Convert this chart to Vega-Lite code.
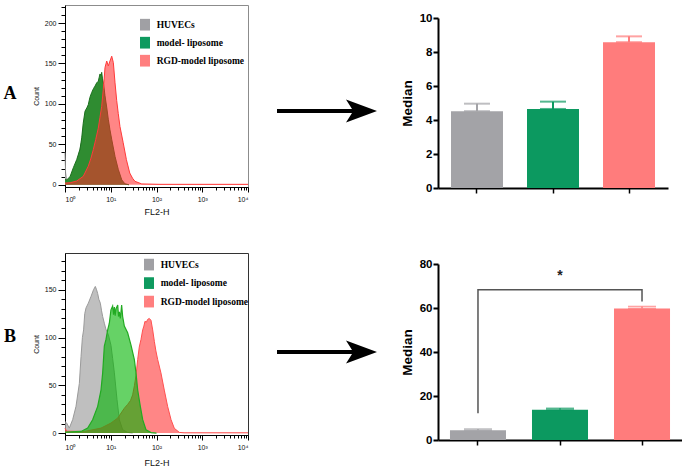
{
  "$schema": "https://vega.github.io/schema/vega-lite/v6.json",
  "padding": {"left": 0, "top": 2, "right": 0, "bottom": 0},
  "background": "white",
  "config": {
    "view": {"stroke": null},
    "font": "Liberation Sans",
    "axis": {"grid": false, "domainColor": "#000", "tickColor": "#000", "labelColor": "#111", "titleColor": "#111"}
  },
  "datasets": {
    "histA": [
      {"s":"gray","x":1,"c":40},{"s":"gray","x":1.03,"c":15},{"s":"gray","x":1.08,"c":5},{"s":"gray","x":1.3,"c":8},{"s":"gray","x":1.8,"c":27},{"s":"gray","x":2.3,"c":52},{"s":"gray","x":2.74,"c":85},{"s":"gray","x":3.2,"c":95},{"s":"gray","x":3.8,"c":108},{"s":"gray","x":4.5,"c":117},{"s":"gray","x":5.3,"c":124},{"s":"gray","x":5.8,"c":132},{"s":"gray","x":6.3,"c":133},{"s":"gray","x":7.5,"c":105},{"s":"gray","x":8.8,"c":76},{"s":"gray","x":10.5,"c":52},{"s":"gray","x":12.4,"c":31},{"s":"gray","x":14.6,"c":16},{"s":"gray","x":17.4,"c":5},{"s":"gray","x":20.5,"c":1},{"s":"gray","x":25,"c":0},
      {"s":"green","x":1,"c":7},{"s":"green","x":1.09,"c":6},{"s":"green","x":1.29,"c":10},{"s":"green","x":1.52,"c":21},{"s":"green","x":1.8,"c":31},{"s":"green","x":2.13,"c":44},{"s":"green","x":2.32,"c":58},{"s":"green","x":2.5,"c":76},{"s":"green","x":2.74,"c":91},{"s":"green","x":3.0,"c":95},{"s":"green","x":3.23,"c":99},{"s":"green","x":3.5,"c":108},{"s":"green","x":3.83,"c":114},{"s":"green","x":4.2,"c":119},{"s":"green","x":4.53,"c":122},{"s":"green","x":4.93,"c":126},{"s":"green","x":5.34,"c":128},{"s":"green","x":5.6,"c":133},{"s":"green","x":5.82,"c":137},{"s":"green","x":6.1,"c":135},{"s":"green","x":6.34,"c":139},{"s":"green","x":6.6,"c":131},{"s":"green","x":7.0,"c":124},{"s":"green","x":7.49,"c":110},{"s":"green","x":8.2,"c":95},{"s":"green","x":8.84,"c":81},{"s":"green","x":9.6,"c":68},{"s":"green","x":10.5,"c":56},{"s":"green","x":12.4,"c":35},{"s":"green","x":14.6,"c":19},{"s":"green","x":17.4,"c":6},{"s":"green","x":20.5,"c":1},{"s":"green","x":25,"c":0},
      {"s":"red","x":1,"c":2},{"s":"red","x":1.3,"c":2.5},{"s":"red","x":1.8,"c":4.6},{"s":"red","x":2.51,"c":10.4},{"s":"red","x":3.23,"c":23},{"s":"red","x":3.7,"c":33},{"s":"red","x":4.16,"c":43.5},{"s":"red","x":4.7,"c":56},{"s":"red","x":5.34,"c":70},{"s":"red","x":5.8,"c":83},{"s":"red","x":6.34,"c":97},{"s":"red","x":6.87,"c":118},{"s":"red","x":7.2,"c":132},{"s":"red","x":7.49,"c":145},{"s":"red","x":8.17,"c":153},{"s":"red","x":8.84,"c":147},{"s":"red","x":9.62,"c":153},{"s":"red","x":10.5,"c":159},{"s":"red","x":11.4,"c":151},{"s":"red","x":12.4,"c":126},{"s":"red","x":13.5,"c":104},{"s":"red","x":14.6,"c":88},{"s":"red","x":15.9,"c":72},{"s":"red","x":18.7,"c":52},{"s":"red","x":22,"c":31},{"s":"red","x":26,"c":14.5},{"s":"red","x":30,"c":8},{"s":"red","x":33.8,"c":4.2},{"s":"red","x":47.6,"c":1},{"s":"red","x":119,"c":0.5},{"s":"red","x":10000,"c":0.5}
    ],
    "histB": [
      {"s":"gray","x":1,"c":12},{"s":"gray","x":1.09,"c":10.5},{"s":"gray","x":1.24,"c":5.2},{"s":"gray","x":1.47,"c":14},{"s":"gray","x":1.74,"c":28},{"s":"gray","x":2.06,"c":52},{"s":"gray","x":2.24,"c":80},{"s":"gray","x":2.4,"c":100},{"s":"gray","x":2.55,"c":108},{"s":"gray","x":2.7,"c":125},{"s":"gray","x":2.88,"c":131},{"s":"gray","x":3.24,"c":136},{"s":"gray","x":3.7,"c":143},{"s":"gray","x":4.2,"c":150},{"s":"gray","x":4.6,"c":153.5},{"s":"gray","x":4.9,"c":150},{"s":"gray","x":5.18,"c":146},{"s":"gray","x":5.5,"c":140},{"s":"gray","x":5.92,"c":136},{"s":"gray","x":6.3,"c":128},{"s":"gray","x":6.66,"c":122},{"s":"gray","x":7.24,"c":115},{"s":"gray","x":7.8,"c":109},{"s":"gray","x":8.28,"c":106},{"s":"gray","x":8.86,"c":103},{"s":"gray","x":10.1,"c":92},{"s":"gray","x":11,"c":78},{"s":"gray","x":12,"c":63},{"s":"gray","x":13.7,"c":35},{"s":"gray","x":15.4,"c":14},{"s":"gray","x":18.2,"c":3.5},{"s":"gray","x":23.4,"c":0.7},{"s":"gray","x":30,"c":0},
      {"s":"green","x":1,"c":1},{"s":"green","x":2.24,"c":1.7},{"s":"green","x":3.13,"c":5.2},{"s":"green","x":4.02,"c":14},{"s":"green","x":5.18,"c":28},{"s":"green","x":6.12,"c":45},{"s":"green","x":6.66,"c":63},{"s":"green","x":7.24,"c":91},{"s":"green","x":7.87,"c":98},{"s":"green","x":8.57,"c":108},{"s":"green","x":9.31,"c":115},{"s":"green","x":10.1,"c":129},{"s":"green","x":11,"c":133},{"s":"green","x":11.5,"c":124},{"s":"green","x":12,"c":132},{"s":"green","x":12.5,"c":123},{"s":"green","x":13,"c":130},{"s":"green","x":14.2,"c":134},{"s":"green","x":14.8,"c":122},{"s":"green","x":15.4,"c":127},{"s":"green","x":16.2,"c":120},{"s":"green","x":17.3,"c":134},{"s":"green","x":18.2,"c":122},{"s":"green","x":19.8,"c":112},{"s":"green","x":23.4,"c":105},{"s":"green","x":27.7,"c":92},{"s":"green","x":32.8,"c":77},{"s":"green","x":35.6,"c":63},{"s":"green","x":38.8,"c":45},{"s":"green","x":44.3,"c":28},{"s":"green","x":49.9,"c":14},{"s":"green","x":58.9,"c":3.5},{"s":"green","x":75.8,"c":0.5},{"s":"green","x":100,"c":0},
      {"s":"red","x":1,"c":5},{"s":"red","x":1.1,"c":2},{"s":"red","x":2.65,"c":1.7},{"s":"red","x":6.12,"c":5.2},{"s":"red","x":10.1,"c":10.5},{"s":"red","x":14.2,"c":15.7},{"s":"red","x":19.8,"c":26},{"s":"red","x":23.4,"c":30},{"s":"red","x":27,"c":34},{"s":"red","x":30.1,"c":40},{"s":"red","x":33,"c":50},{"s":"red","x":35.6,"c":60},{"s":"red","x":38.8,"c":77},{"s":"red","x":42,"c":90},{"s":"red","x":45.8,"c":98},{"s":"red","x":49.9,"c":108},{"s":"red","x":53,"c":112},{"s":"red","x":56,"c":117},{"s":"red","x":60,"c":116},{"s":"red","x":64.1,"c":119},{"s":"red","x":69.7,"c":120},{"s":"red","x":75.8,"c":118},{"s":"red","x":82.5,"c":108},{"s":"red","x":89.7,"c":96},{"s":"red","x":97,"c":86},{"s":"red","x":106,"c":77},{"s":"red","x":125,"c":63},{"s":"red","x":148,"c":45},{"s":"red","x":175,"c":28},{"s":"red","x":208,"c":14},{"s":"red","x":245,"c":5},{"s":"red","x":316,"c":0.7},{"s":"red","x":400,"c":0.3},{"s":"red","x":10000,"c":0.3}
    ],
    "barA": [
      {"g":"HUVECs","v":4.52,"e":4.96},
      {"g":"model- liposome","v":4.65,"e":5.08},
      {"g":"RGD-model liposome","v":8.58,"e":8.92}
    ],
    "barB": [
      {"g":"HUVECs","v":4.4,"e":5.0},
      {"g":"model- liposome","v":13.7,"e":14.4},
      {"g":"RGD-model liposome","v":59.8,"e":60.7}
    ],
    "bracketB": [
      {"g":"HUVECs","v":12.2,"o":1},
      {"g":"HUVECs","v":68.3,"o":2},
      {"g":"RGD-model liposome","v":68.3,"o":3},
      {"g":"RGD-model liposome","v":63,"o":4}
    ],
    "starB": [
      {"g":"model- liposome","v":74.5,"t":"*"}
    ]
  },
  "bounds": "flush",
  "align": "each",
  "columns": 4,
  "spacing": {"row": 36, "column": 45},
  "resolve": {"scale": {"color": "independent"}, "legend": {"color": "independent"}},
  "concat": [
    {"width": 20, "height": 178, "data": {"values": [{"t": "A"}]},
     "mark": {"type": "text", "font": "Liberation Serif", "fontWeight": "bold", "fontSize": 18, "baseline": "middle", "align": "center", "color": "#000"},
     "encoding": {"text": {"field": "t"}}},
    {
      "width": 183, "height": 182,
      "view": {"stroke": "#8c8c8c"},
      "data": {"name": "histA"},
      "encoding": {
        "x": {"field": "x", "type": "quantitative", "scale": {"type": "log", "domain": [1, 10000], "nice": false},
          "axis": {"title": "FL2-H", "values": [1,2,3,4,5,6,7,8,9,10,20,30,40,50,60,70,80,90,100,200,300,400,500,600,700,800,900,1000,2000,3000,4000,5000,6000,7000,8000,9000,10000],
            "labelExpr": "datum.value == 1 ? '10⁰' : datum.value == 10 ? '10¹' : datum.value == 100 ? '10²' : datum.value == 1000 ? '10³' : datum.value == 10000 ? '10⁴' : ''",
            "labelFlush": true, "labelOverlap": false, "labelFontSize": 7, "labelPadding": 3,
            "tickSize": {"condition": {"test": "indexof([1,10,100,1000,10000], datum.value) >= 0", "value": 5}, "value": 3},
            "titleFontSize": 9, "titleFontWeight": "normal", "titlePadding": 5}},
        "y": {"field": "c", "type": "quantitative", "stack": null, "scale": {"domain": [-2.8, 222.3], "nice": false, "zero": false},
          "axis": {"title": "Count", "values": [0,10,20,30,40,50,60,70,80,90,100,110,120,130,140,150,160,170,180,190,200,210,220],
            "labelExpr": "datum.value % 50 == 0 ? datum.label : ''", "labelOverlap": false, "labelFlush": false, "labelFontSize": 7, "labelPadding": 2,
            "tickSize": {"condition": {"test": "datum.value % 50 == 0", "value": 7}, "value": 4},
            "titleFontSize": 7, "titleFontWeight": "normal", "titlePadding": 5}}
      },
      "layer": [
        {"transform": [{"filter": "datum.s == 'gray'"}], "mark": {"type": "area", "color": "#b0b0b0", "fillOpacity": 1, "line": {"color": "#8c8c8c", "strokeWidth": 1}}},
        {"transform": [{"filter": "datum.s == 'green'"}], "mark": {"type": "area", "color": "#2f8c31", "fillOpacity": 1, "line": {"color": "#1b701d", "strokeWidth": 1}}},
        {"transform": [{"filter": "datum.s == 'red'"}], "mark": {"type": "area", "color": "#ff2a2a", "fillOpacity": 0.57, "line": {"color": "#ff3a3a", "strokeWidth": 1}}},
        {"transform": [{"filter": "false"}], "mark": {"type": "square", "filled": true},
         "encoding": {"color": {"field": "s", "type": "nominal",
           "scale": {"domain": ["HUVECs", "model- liposome", "RGD-model liposome"], "range": ["#a0a0a4", "#0e9a5f", "#ff7f7f"]},
           "legend": {"orient": "none", "legendX": 74, "legendY": 13.7, "title": null, "symbolType": "M-0.85,-1L0.85,-1L0.85,1L-0.85,1Z", "symbolSize": 137, "symbolStrokeWidth": 0, "symbolOpacity": 1,
             "labelFont": "Liberation Serif", "labelFontWeight": "bold", "labelFontSize": 9.5, "labelColor": "#000", "rowPadding": 6, "labelOffset": 5.7, "padding": 0, "offset": 0}}}}
      ]
    },
    {"width": 100, "height": 212, "data": {"values": [{"k": "A"}]},
     "mark": {"type": "point", "shape": "M-1,-0.04L0.5,-0.04L0.38,-0.23L1,0L0.38,0.23L0.5,0.04L-1,0.04Z", "size": 10000, "filled": true, "color": "#000", "opacity": 1, "strokeWidth": 0, "xOffset": -16},
     "encoding": {}},
    {
      "width": 230, "height": 183,
      "data": {"name": "barA"},
      "encoding": {
        "x": {"field": "g", "type": "nominal", "sort": null,
          "scale": {"domain": ["HUVECs", "model- liposome", "RGD-model liposome"], "paddingInner": 0.316, "paddingOuter": 0.171},
          "axis": {"title": null, "labels": false, "tickSize": 5, "tickWidth": 1.5, "domainWidth": 2}},
        "y": {"field": "v", "type": "quantitative", "scale": {"domain": [0, 10], "nice": false, "range": [183, 13]},
          "axis": {"title": "Median", "values": [0,2,4,6,8,10], "labelOverlap": false, "labelFlush": false, "titleFontSize": 13.5, "titleFontWeight": "bold", "titleColor": "#000", "titlePadding": 5,
            "labelFontSize": 11.5, "labelFontWeight": "bold", "labelColor": "#000", "labelPadding": 1, "tickSize": 5, "tickWidth": 2, "domainWidth": 2}},
        "color": {"field": "g", "type": "nominal", "legend": null,
          "scale": {"domain": ["HUVECs", "model- liposome", "RGD-model liposome"], "range": ["#a3a3a7", "#0c9960", "#ff7c7c"]}}
      },
      "layer": [
        {"mark": {"type": "bar"}},
        {"mark": {"type": "errorbar", "ticks": {"size": 26, "thickness": 2}, "rule": {"strokeWidth": 2}},
         "encoding": {"y2": {"field": "e"}}}
      ]
    },
    {"width": 20, "height": 167, "data": {"values": [{"t": "B"}]},
     "mark": {"type": "text", "font": "Liberation Serif", "fontWeight": "bold", "fontSize": 18, "baseline": "middle", "align": "center", "color": "#000"},
     "encoding": {"text": {"field": "t"}}},
    {
      "width": 183, "height": 182,
      "view": {"stroke": "#333"},
      "data": {"name": "histB"},
      "encoding": {
        "x": {"field": "x", "type": "quantitative", "scale": {"type": "log", "domain": [1, 10000], "nice": false},
          "axis": {"title": "FL2-H", "values": [1,2,3,4,5,6,7,8,9,10,20,30,40,50,60,70,80,90,100,200,300,400,500,600,700,800,900,1000,2000,3000,4000,5000,6000,7000,8000,9000,10000],
            "labelExpr": "datum.value == 1 ? '10⁰' : datum.value == 10 ? '10¹' : datum.value == 100 ? '10²' : datum.value == 1000 ? '10³' : datum.value == 10000 ? '10⁴' : ''",
            "labelFlush": true, "labelOverlap": false, "labelFontSize": 7, "labelPadding": 3,
            "tickSize": {"condition": {"test": "indexof([1,10,100,1000,10000], datum.value) >= 0", "value": 5}, "value": 3},
            "titleFontSize": 9, "titleFontWeight": "normal", "titlePadding": 8}},
        "y": {"field": "c", "type": "quantitative", "stack": null, "scale": {"domain": [-2, 188.5], "nice": false, "zero": false},
          "axis": {"title": "Count", "values": [0,10,20,30,40,50,60,70,80,90,100,110,120,130,140,150,160,170,180],
            "labelExpr": "datum.value % 50 == 0 ? datum.label : ''", "labelOverlap": false, "labelFlush": false, "labelFontSize": 7, "labelPadding": 2,
            "tickSize": {"condition": {"test": "datum.value % 50 == 0", "value": 7}, "value": 4},
            "titleFontSize": 7, "titleFontWeight": "normal", "titlePadding": 5}}
      },
      "layer": [
        {"transform": [{"filter": "datum.s == 'gray'"}], "mark": {"type": "area", "color": "#aaaaaa", "fillOpacity": 0.75, "line": {"color": "#9a9a9a", "strokeWidth": 1}}},
        {"transform": [{"filter": "datum.s == 'red'"}], "mark": {"type": "area", "color": "#ff2a2a", "fillOpacity": 0.57, "line": {"color": "#ff5050", "strokeWidth": 1}}},
        {"transform": [{"filter": "datum.s == 'green'"}], "mark": {"type": "area", "color": "#00b400", "fillOpacity": 0.6, "line": {"color": "#22aa22", "strokeWidth": 1.2}}},
        {"transform": [{"filter": "false"}], "mark": {"type": "square", "filled": true},
         "encoding": {"color": {"field": "s", "type": "nominal",
           "scale": {"domain": ["HUVECs", "model- liposome", "RGD-model liposome"], "range": ["#a0a0a4", "#0e9a5f", "#ff7f7f"]},
           "legend": {"orient": "none", "legendX": 78, "legendY": 5.6, "title": null, "symbolType": "M-0.85,-1L0.85,-1L0.85,1L-0.85,1Z", "symbolSize": 137, "symbolStrokeWidth": 0, "symbolOpacity": 1,
             "labelFont": "Liberation Serif", "labelFontWeight": "bold", "labelFontSize": 9.5, "labelColor": "#000", "rowPadding": 6.5, "labelOffset": 5.7, "padding": 0, "offset": 0}}}}
      ]
    },
    {"width": 100, "height": 198, "data": {"values": [{"k": "B"}]},
     "mark": {"type": "point", "shape": "M-1,-0.04L0.5,-0.04L0.38,-0.23L1,0L0.38,0.23L0.5,0.04L-1,0.04Z", "size": 10000, "filled": true, "color": "#000", "opacity": 1, "strokeWidth": 0, "xOffset": -16},
     "encoding": {}},
    {
      "width": 244, "height": 187,
      "data": {"name": "barB"},
      "encoding": {
        "x": {"field": "g", "type": "nominal", "sort": null,
          "scale": {"domain": ["HUVECs", "model- liposome", "RGD-model liposome"], "paddingInner": 0.317, "paddingOuter": 0.146},
          "axis": {"title": null, "labels": false, "tickSize": 5, "tickWidth": 1.5, "domainWidth": 2}},
        "y": {"field": "v", "type": "quantitative", "scale": {"domain": [0, 80], "nice": false, "range": [187, 11]},
          "axis": {"title": "Median", "values": [0,20,40,60,80], "labelOverlap": false, "labelFlush": false, "titleFontSize": 13.5, "titleFontWeight": "bold", "titleColor": "#000", "titlePadding": 5,
            "labelFontSize": 11.5, "labelFontWeight": "bold", "labelColor": "#000", "labelPadding": 1, "tickSize": 5, "tickWidth": 2, "domainWidth": 2}},
        "color": {"field": "g", "type": "nominal", "legend": null,
          "scale": {"domain": ["HUVECs", "model- liposome", "RGD-model liposome"], "range": ["#a3a3a7", "#0c9960", "#ff7c7c"]}}
      },
      "layer": [
        {"mark": {"type": "bar"}},
        {"mark": {"type": "errorbar", "ticks": {"size": 28, "thickness": 1.5}, "rule": {"strokeWidth": 1.5}},
         "encoding": {"y2": {"field": "e"}}},
        {"data": {"name": "bracketB"},
         "mark": {"type": "line", "strokeWidth": 1.5},
         "encoding": {"color": {"value": "#555"}, "order": {"field": "o", "type": "quantitative"}}},
        {"data": {"name": "starB"},
         "mark": {"type": "text", "fontSize": 14, "fontWeight": "bold", "baseline": "middle"},
         "encoding": {"color": {"value": "#222"}, "text": {"field": "t"}}}
      ]
    }
  ]
}
